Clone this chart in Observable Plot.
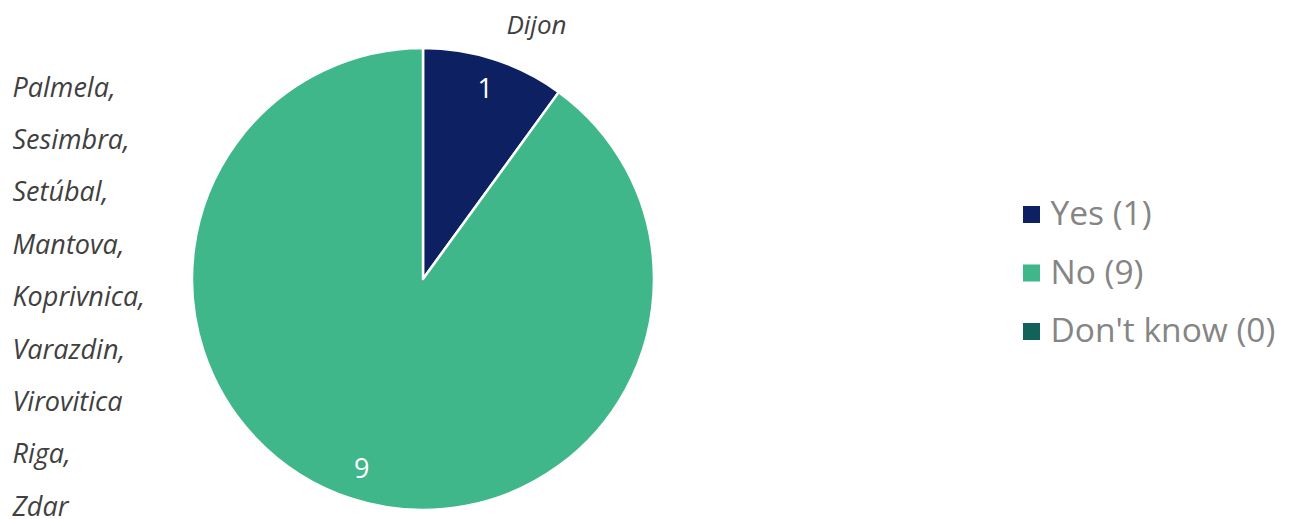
<!DOCTYPE html>
<html>
<head>
<meta charset="utf-8">
<script src="https://cdn.jsdelivr.net/npm/d3@7"></script>
<script src="https://cdn.jsdelivr.net/npm/@observablehq/plot@0.6"></script>
<style>
  html, body { margin: 0; padding: 0; background: #fff; }
  #chart svg { display: block; }
</style>
</head>
<body>
<div id="chart"></div>
<script>
// ---- data ----
const categories = ["Yes", "No", "Don't know"];
const counts = [1, 9, 0];
const colors = ["#0d2062", "#3fb78a", "#10625a"];
const yesCities = ["Dijon"];
const noCities = ["Palmela,", "Sesimbra,", "Setúbal,", "Mantova,", "Koprivnica,", "Varazdin,", "Virovitica", "Riga,", "Zdar"];

// ---- layout constants ----
const W = 1295, H = 519;
const cx = 423, cy = 279, R = 231;
const font = "'Open Sans', 'Source Sans Pro', Lato, sans-serif";

const rows = categories.map((c, i) => ({label: c, value: counts[i], legend: `${c} (${counts[i]})`}));
const arcs = d3.pie().sort(null).value(d => d.value)(rows);
const labelArc = d3.arc().innerRadius(0.866 * R).outerRadius(0.866 * R);
const sliceLabels = arcs.filter(a => a.data.value > 0).map(a => {
  const [x, y] = labelArc.centroid(a);
  return {x: cx + x, y: cy + y, text: String(a.data.value)};
});

function pieMark(index, scales) {
  const g = d3.create("svg:g").attr("transform", `translate(${cx},${cy})`);
  const arc = d3.arc().innerRadius(0).outerRadius(R);
  g.selectAll("path").data(arcs.filter(a => a.data.value > 0)).join("path")
    .attr("d", arc)
    .attr("fill", d => scales.color(d.data.label))
    .attr("stroke", "white")
    .attr("stroke-width", 2.5)
    .attr("stroke-linejoin", "round");
  return g.node();
}

const chart = Plot.plot({
  width: W,
  height: H,
  margin: 0,
  x: {type: "identity", axis: null},
  y: {type: "identity", axis: null},
  color: {domain: categories, range: colors},
  style: {fontFamily: font, background: "white"},
  marks: [
    pieMark,
    Plot.text(sliceLabels, {x: "x", y: "y", text: "text", fill: "white", fontSize: 27, fontFamily: font}),
    // city lists
    Plot.text(noCities, {x: 12, y: (d, i) => 87.5 + i * 52.4, text: d => d, textAnchor: "start", fontSize: 27, fontStyle: "italic", fill: "#404040", fontFamily: font}),
    Plot.text(yesCities, {x: 536, y: 25, text: d => d, fontSize: 26, fontStyle: "italic", fill: "#404040", fontFamily: font}),
    // legend
    Plot.dot(rows, {x: 1031, y: (d, i) => 214 + i * 58.5, fill: "label", symbol: "square", r: 9.6, stroke: null}),
    Plot.text(rows, {x: 1050, y: (d, i) => 214 + i * 58.5, text: "legend", textAnchor: "start", fontSize: 33.5, fill: "#858585", fontFamily: font})
  ]
});
document.getElementById("chart").appendChild(chart);
</script>
</body>
</html>
